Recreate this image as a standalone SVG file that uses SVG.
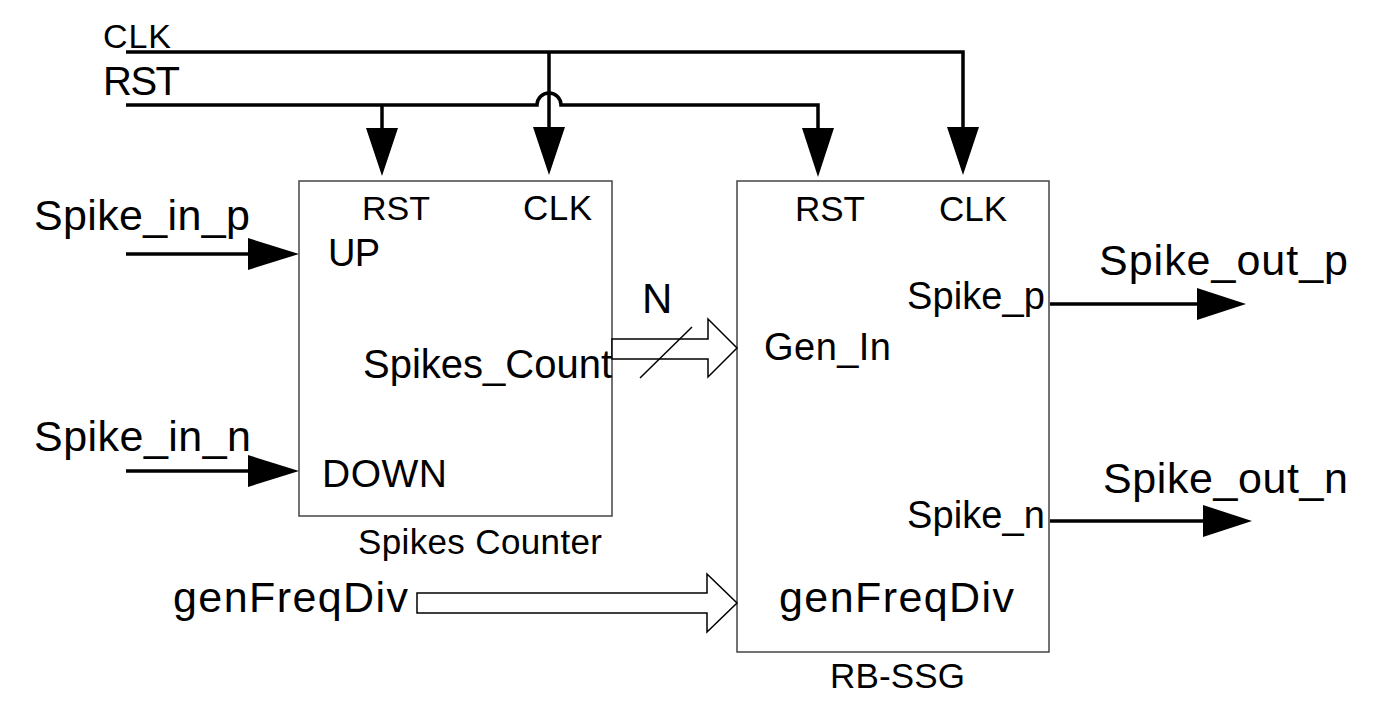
<svg xmlns="http://www.w3.org/2000/svg" width="1390" height="722" viewBox="0 0 1390 722">
<style>
text{font-family:"Liberation Sans",Arial,sans-serif;fill:#000}
.wire{fill:none;stroke:#000;stroke-width:3.5}
.head{fill:#000;stroke:none}
.bus{fill:#fff;stroke:#000;stroke-width:1.5}
.box{fill:#fff;stroke:#444;stroke-width:1.5}
</style>
<rect width="1390" height="722" fill="#fff"/>
<g id="spikes-counter">
<rect class="box" x="299" y="181" width="313" height="335"/>
<text x="362" y="220" font-size="34" textLength="68">RST</text>
<text x="523" y="220" font-size="35" textLength="69">CLK</text>
<text x="328" y="266" font-size="38" textLength="52">UP</text>
<text x="363" y="378" font-size="40" textLength="249">Spikes_Count</text>
<text x="322" y="487" font-size="39" textLength="125">DOWN</text>
<text x="358" y="554" font-size="35" textLength="244">Spikes Counter</text>
</g>
<g id="rb-ssg">
<rect class="box" x="737" y="181" width="312" height="471"/>
<text x="795" y="221" font-size="35" textLength="70">RST</text>
<text x="939" y="221" font-size="35" textLength="68">CLK</text>
<text x="907" y="309" font-size="38" textLength="138">Spike_p</text>
<text x="764" y="360" font-size="38" textLength="127">Gen_In</text>
<text x="907" y="528" font-size="38" textLength="138">Spike_n</text>
<text x="779" y="612" font-size="43" textLength="235">genFreqDiv</text>
<text x="830" y="688" font-size="35" textLength="135">RB-SSG</text>
</g>
<g id="labels">
<text x="103" y="48" font-size="34" textLength="68">CLK</text>
<text x="103" y="95" font-size="40" textLength="77">RST</text>
<text x="34" y="230" font-size="43" textLength="216">Spike_in_p</text>
<text x="34" y="451" font-size="43" textLength="217">Spike_in_n</text>
<text x="173" y="612" font-size="43" textLength="235">genFreqDiv</text>
<text x="1099" y="275" font-size="43" textLength="249">Spike_out_p</text>
<text x="1103" y="493" font-size="43" textLength="245">Spike_out_n</text>
<text x="642" y="313" font-size="42">N</text>
</g>
<g id="connectors">
<path class="wire" d="M126,52 H963 V130"/>
<polygon class="head" points="947,127 979,127 963,175"/>
<path class="wire" d="M549,52 V130"/>
<polygon class="head" points="533,127 565,127 549,175"/>
<path class="wire" d="M126,105 H537 A12,12 0 0 1 561,105 H818 V131"/>
<polygon class="head" points="802,128 834,128 818,177"/>
<path class="wire" d="M382,105 V131"/>
<polygon class="head" points="366,128 398,128 382,176"/>
<path class="wire" d="M126,254 H252"/>
<polygon class="head" points="248,238 248,270 299,254"/>
<path class="wire" d="M126,471 H252"/>
<polygon class="head" points="248,455 248,487 299,471"/>
<path class="wire" d="M1050,304 H1200"/>
<polygon class="head" points="1197,288 1197,320 1246,304"/>
<path class="wire" d="M1050,521 H1206"/>
<polygon class="head" points="1203,505 1203,537 1252,521"/>
<polygon class="bus" points="612,339 708,339 708,319 737,348 708,377 708,359 612,359"/>
<line x1="640" y1="378" x2="692" y2="327" stroke="#000" stroke-width="1.5"/>
<polygon class="bus" points="417,593 707,593 707,574 737,603 707,632 707,613 417,613"/>
</g>
</svg>
